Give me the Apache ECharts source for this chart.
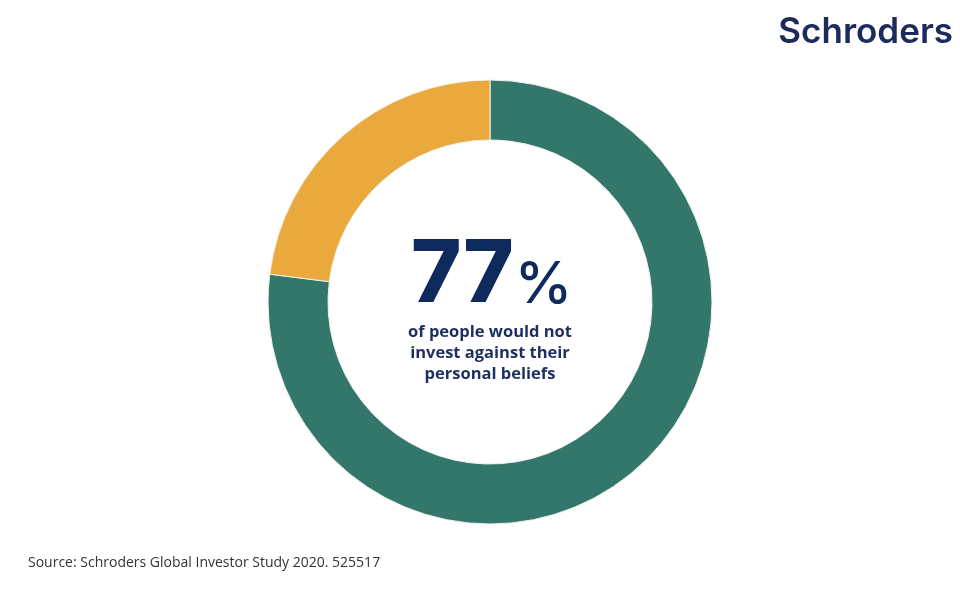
<!DOCTYPE html>
<html><head><meta charset="utf-8">
<script src="https://cdn.jsdelivr.net/npm/echarts@6/dist/echarts.min.js"></script>
<style>html,body{margin:0;padding:0;background:#fff}#c{width:960px;height:589px}</style>
</head><body><div id="c"></div>
<script>
const categories = ['Would not invest against beliefs', 'Other'];
const values = [77, 23];
const colors = ['#33776b', '#eaa93c'];
const headline = '77';
const subtitle = ['of people would not', 'invest against their', 'personal beliefs'];
const source = 'Source: Schroders Global Investor Study 2020. 525517';
const brand = 'Schroders';

const chart = echarts.init(document.getElementById('c'));
chart.setOption({
  animation: false,
  backgroundColor: '#ffffff',
  graphic: [
    { type: 'text', right: 7, top: 15, style: { text: brand, font: '600 35px Inter', fill: '#1c2b5c' } },
    { type: 'text', left: 28, top: 556, style: { text: source, font: '14px "Open Sans"', fill: '#333333' } },
    { type: 'text', left: 411, top: 233, style: {
        text: '{a|' + headline + '}{b|%}',
        rich: {
          a: { font: '800 86px Inter', fill: '#0f2a5c', verticalAlign: 'bottom' },
          b: { font: '500 58px Inter', fill: '#0f2a5c', verticalAlign: 'bottom', padding: [0,0,4,1] }
        }
    } },
    { type: 'text', x: 490, y: 322, style: { text: subtitle.join('\n'), font: 'bold 16.5px "Open Sans"', lineHeight: 21, fill: '#1c2f5e', align: 'center' } }
  ],
  series: [{
    type: 'pie',
    center: [490, 302],
    radius: [162, 222],
    startAngle: 90,
    clockwise: true,
    label: { show: false },
    labelLine: { show: false },
    emphasis: { disabled: true },
    itemStyle: { borderColor: '#f2f2f2', borderWidth: 1 },
    data: categories.map((c, i) => ({ name: c, value: values[i], itemStyle: { color: colors[i] } }))
  }]
});
</script></body></html>
